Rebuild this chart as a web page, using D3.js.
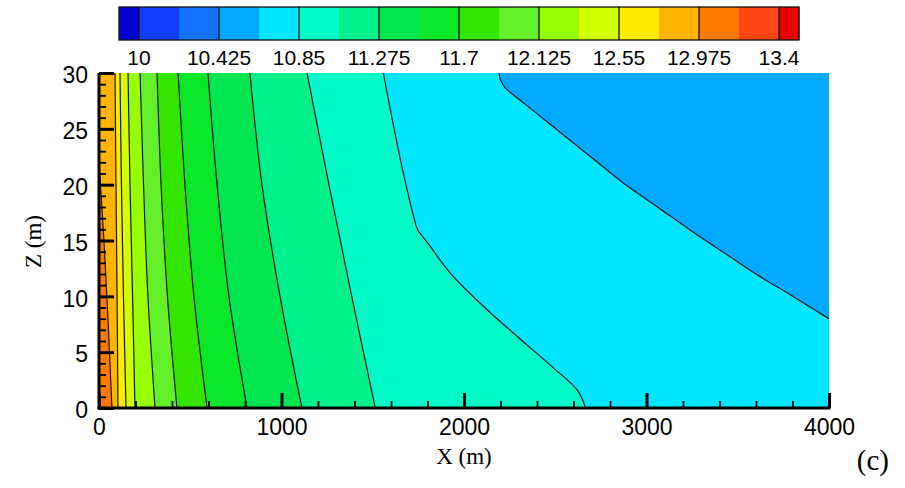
<!DOCTYPE html>
<html>
<head>
<meta charset="utf-8">
<script src="https://cdn.jsdelivr.net/npm/d3@7"></script>
<style>
  body { margin: 0; background: #fff; }
  svg { display: block; }
</style>
</head>
<body>
<svg id="chart" width="905" height="488"></svg>
<script>
// ---- contour levels and colour bands ----
const levels = [10, 10.2125, 10.425, 10.6375, 10.85, 11.0625, 11.275, 11.4875, 11.7,
                11.9125, 12.125, 12.3375, 12.55, 12.7625, 12.975, 13.1875, 13.4];
const legendLevels = [10, 10.425, 10.85, 11.275, 11.7, 12.125, 12.55, 12.975, 13.4];
const legendLabels = ["10", "10.425", "10.85", "11.275", "11.7", "12.125", "12.55", "12.975", "13.4"];
// band i lies below levels[i] (band 0) ... above levels[16] (band 17)
const bandColors = ["#0000d2", "#143cff", "#1473ff", "#00aaff", "#00e6ff", "#00fac8",
                    "#00f08c", "#00e650", "#0ae628", "#32e600", "#64f028", "#96ff00",
                    "#d2ff00", "#ffeb00", "#ffb400", "#ff7800", "#ff4614", "#e60000"];

// ---- axes ----
const xDomain = [0, 4000];
const zDomain = [0, 30];
const xMajor = [0, 1000, 2000, 3000, 4000];
const zMajor = [0, 5, 10, 15, 20, 25, 30];
const xMinorStep = 200;
const zMinorStep = 1;

// ---- isolines, points as [x (m), z (m)] ----
const iso12_975  = [[0, 22], [27, 15], [49, 8], [71, 0]];
const iso12_7625 = [[88, 30], [93, 20], [99, 10], [104, 0]];
const iso12_55   = [[115, 30], [123, 20], [134, 10], [148, 0]];
const iso12_3375 = [[159, 30], [170, 20], [184, 10], [197, 0]];
const iso12_125  = [[225, 30], [244, 20], [268, 10], [307, 0]];
const iso11_9125 = [[318, 30], [340, 20], [375, 10], [427, 0]];
const iso11_7    = [[433, 30], [471, 20], [520, 10], [592, 0]];
const iso11_4875 = [[597, 30], [647, 20], [712, 10], [811, 0]];
const iso11_275  = [[827, 30], [893, 20], [992, 10], [1112, 0]];
const iso11_0625 = [[1140, 30], [1260, 20], [1385, 10], [1514, 0]];
const iso10_85   = [[1558, 30], [1652, 22.2], [1725, 17.1], [1745, 16.0], [1800, 14.8],
                    [1926, 12.06], [2109, 9.07], [2292, 6.4], [2493, 3.55], [2621, 1.6], [2667, 0]];
const iso10_6375 = [[2191, 30], [2200, 29.4], [2225, 28.7], [2328, 27.3], [2511, 24.9],
                    [2694, 22.5], [2877, 20.1], [3060, 18.0], [3243, 15.9], [3426, 13.9],
                    [3609, 11.9], [3792, 10.1], [4000, 8.0]];

const isolines = [
  { level: 10.6375, pts: iso10_6375 },
  { level: 10.85,   pts: iso10_85 },
  { level: 11.0625, pts: iso11_0625 },
  { level: 11.275,  pts: iso11_275 },
  { level: 11.4875, pts: iso11_4875 },
  { level: 11.7,    pts: iso11_7 },
  { level: 11.9125, pts: iso11_9125 },
  { level: 12.125,  pts: iso12_125 },
  { level: 12.3375, pts: iso12_3375 },
  { level: 12.55,   pts: iso12_55 },
  { level: 12.7625, pts: iso12_7625 },
  { level: 12.975,  pts: iso12_975 }
];

// ---- layout ----
const svg = d3.select("#chart");
const plot = { left: 99, right: 829, top: 73, bottom: 408 };
const x = d3.scaleLinear().domain(xDomain).range([plot.left, plot.right]);
const z = d3.scaleLinear().domain(zDomain).range([plot.bottom, plot.top]);

const sansFont = "'Liberation Sans', Arial, Helvetica, sans-serif";
const serifFont = "'Liberation Serif', 'Times New Roman', serif";

svg.append("defs").append("clipPath").attr("id", "plotClip")
  .append("rect")
  .attr("x", x(xDomain[0])).attr("y", z(zDomain[1]))
  .attr("width", x(xDomain[1]) - x(xDomain[0]))
  .attr("height", z(zDomain[0]) - z(zDomain[1]));

const field = svg.append("g").attr("clip-path", "url(#plotClip)");

const lineGen = d3.line()
  .x(d => x(d[0])).y(d => z(d[1]))
  .curve(d3.curveCatmullRom.alpha(0.5));

// perimeter parameter, clockwise from the top-left corner (0..4)
function perim(p) {
  const u = (p[0] - xDomain[0]) / (xDomain[1] - xDomain[0]);
  const v = (p[1] - zDomain[0]) / (zDomain[1] - zDomain[0]);
  const eps = 1e-6;
  if (v >= 1 - eps) return u;
  if (u >= 1 - eps) return 1 + (1 - v);
  if (v <= eps) return 2 + (1 - u);
  return 3 + v;
}
const corners = [[xDomain[0], zDomain[1]], [xDomain[1], zDomain[1]],
                 [xDomain[1], zDomain[0]], [xDomain[0], zDomain[0]]];

// region on the high side of an isoline: the line, then the frame back to its start
function highSidePath(pts) {
  const tS = perim(pts[0]);
  const tE = perim(pts[pts.length - 1]);
  let tEnd = tS <= tE ? tS + 4 : tS;
  let d = lineGen(pts);
  for (let k = Math.floor(tE) + 1; k < tEnd; k++) {
    const c = corners[k % 4];
    d += "L" + x(c[0]) + "," + z(c[1]);
  }
  return d + "Z";
}

// base fill: band just below the lowest isoline
const sorted = isolines.slice().sort((a, b) => a.level - b.level);
field.append("rect")
  .attr("x", x(xDomain[0])).attr("y", z(zDomain[1]))
  .attr("width", x(xDomain[1]) - x(xDomain[0]))
  .attr("height", z(zDomain[0]) - z(zDomain[1]))
  .attr("fill", bandColors[levels.indexOf(sorted[0].level)]);

field.selectAll("path.band")
  .data(sorted)
  .join("path")
  .attr("class", "band")
  .attr("d", d => highSidePath(d.pts))
  .attr("fill", d => bandColors[levels.indexOf(d.level) + 1])
  .attr("stroke", "none");

field.selectAll("path.iso")
  .data(sorted)
  .join("path")
  .attr("class", "iso")
  .attr("d", d => lineGen(d.pts))
  .attr("fill", "none")
  .attr("stroke", "#161616")
  .attr("stroke-width", 1.2);

// ---- axes ----
const xMinor = d3.range(xDomain[0], xDomain[1] + 1, xMinorStep).filter(v => !xMajor.includes(v));
const zMinor = d3.range(zDomain[0], zDomain[1] + 0.001, zMinorStep).filter(v => !zMajor.includes(v));

const gx = svg.append("g").attr("transform", `translate(0,${z(zDomain[0])})`);
gx.call(d3.axisBottom(x).tickValues(xMajor).tickFormat(d3.format("d"))
  .tickSize(-15).tickPadding(11).tickSizeOuter(0));
gx.select(".domain").remove();
gx.selectAll(".tick line").attr("stroke", "#000").attr("stroke-width", 3);
gx.selectAll(".tick text").attr("font-family", sansFont).attr("font-size", 23).attr("fill", "#000");

const gxm = svg.append("g").attr("transform", `translate(0,${z(zDomain[0])})`);
gxm.call(d3.axisBottom(x).tickValues(xMinor).tickFormat("").tickSize(-7).tickSizeOuter(0));
gxm.select(".domain").remove();
gxm.selectAll(".tick line").attr("stroke", "#000").attr("stroke-width", 1.8);

const gz = svg.append("g").attr("transform", `translate(${x(xDomain[0])},0)`);
gz.call(d3.axisLeft(z).tickValues(zMajor).tickFormat(d3.format("d"))
  .tickSize(-15).tickPadding(11).tickSizeOuter(0));
gz.select(".domain").remove();
gz.selectAll(".tick line").attr("stroke", "#000").attr("stroke-width", 3);
gz.selectAll(".tick text").attr("font-family", sansFont).attr("font-size", 23).attr("fill", "#000")
  .attr("dy", "0.42em");

const gzm = svg.append("g").attr("transform", `translate(${x(xDomain[0])},0)`);
gzm.call(d3.axisLeft(z).tickValues(zMinor).tickFormat("").tickSize(-7).tickSizeOuter(0));
gzm.select(".domain").remove();
gzm.selectAll(".tick line").attr("stroke", "#000").attr("stroke-width", 1.8);

// axis lines
svg.append("line")
  .attr("x1", x(xDomain[0])).attr("x2", x(xDomain[0]))
  .attr("y1", z(zDomain[0]) + 1.5).attr("y2", z(zDomain[1]))
  .attr("stroke", "#000").attr("stroke-width", 3);
svg.append("line")
  .attr("x1", x(xDomain[0]) - 1.5).attr("x2", x(xDomain[1]) + 1.5)
  .attr("y1", z(zDomain[0])).attr("y2", z(zDomain[0]))
  .attr("stroke", "#000").attr("stroke-width", 3);

// axis titles
svg.append("text")
  .attr("x", (plot.left + plot.right) / 2).attr("y", 464)
  .attr("text-anchor", "middle")
  .attr("font-family", serifFont).attr("font-size", 23)
  .text("X (m)");
svg.append("text")
  .attr("transform", `translate(41,${(plot.top + plot.bottom) / 2 + 1}) rotate(-90)`)
  .attr("text-anchor", "middle")
  .attr("font-family", serifFont).attr("font-size", 23)
  .text("Z (m)");

// panel tag
svg.append("text")
  .attr("x", 889).attr("y", 470)
  .attr("text-anchor", "end")
  .attr("font-family", serifFont).attr("font-size", 29)
  .text("(c)");

// ---- colour legend ----
const step = levels[1] - levels[0];
const cb = d3.scaleLinear()
  .domain([levels[0] - step / 2, levels[levels.length - 1] + step / 2])
  .range([119, 799]);
const cbTop = 7, cbBottom = 40;
const edges = [cb.domain()[0], ...levels, cb.domain()[1]];
const legend = svg.append("g");
legend.selectAll("rect.swatch")
  .data(bandColors)
  .join("rect")
  .attr("class", "swatch")
  .attr("x", (d, i) => cb(edges[i]))
  .attr("width", (d, i) => cb(edges[i + 1]) - cb(edges[i]) + 0.5)
  .attr("y", cbTop).attr("height", cbBottom - cbTop)
  .attr("fill", d => d);
legend.selectAll("line.sep")
  .data(legendLevels)
  .join("line")
  .attr("class", "sep")
  .attr("x1", d => cb(d)).attr("x2", d => cb(d))
  .attr("y1", cbTop).attr("y2", cbBottom)
  .attr("stroke", "#111").attr("stroke-width", 1.3);
legend.append("rect")
  .attr("x", cb.range()[0]).attr("y", cbTop)
  .attr("width", cb.range()[1] - cb.range()[0]).attr("height", cbBottom - cbTop)
  .attr("fill", "none").attr("stroke", "#111").attr("stroke-width", 1.3);
legend.selectAll("text.lab")
  .data(legendLevels)
  .join("text")
  .attr("class", "lab")
  .attr("x", d => cb(d)).attr("y", 65)
  .attr("text-anchor", "middle")
  .attr("font-family", sansFont).attr("font-size", 21)
  .text((d, i) => legendLabels[i]);
</script>
</body>
</html>
